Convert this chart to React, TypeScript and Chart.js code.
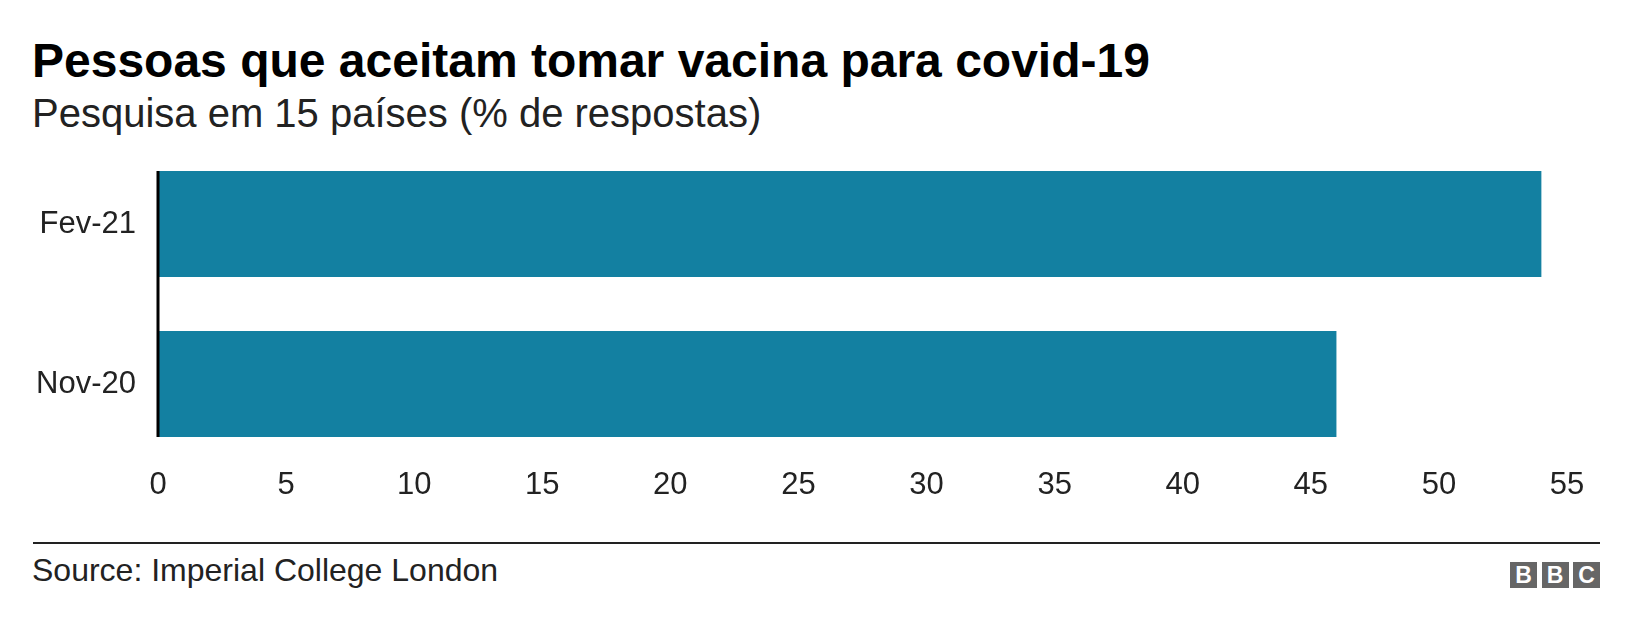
import React, { useEffect, useRef } from "react";
import { Chart, registerables } from "chart.js";

Chart.register(...registerables);

const categories = ["Fev-21", "Nov-20"];
const values = [54, 46];
const xTicks = [0, 5, 10, 15, 20, 25, 30, 35, 40, 45, 50, 55];
const titleText = "Pessoas que aceitam tomar vacina para covid-19";
const subtitleText = "Pesquisa em 15 países (% de respostas)";
const sourceText = "Source: Imperial College London";

const FONT = "'Liberation Sans', Arial, Helvetica, sans-serif";
const BAR = "#1380A1";

const zeroLine = {
  id: "zeroLine",
  afterDatasetsDraw(chart: any) {
    const meta = chart.getDatasetMeta(0);
    if (!meta || !meta.data.length) return;
    let top = Infinity;
    let bottom = -Infinity;
    meta.data.forEach((el: any) => {
      const h = el.height;
      top = Math.min(top, el.y - h / 2);
      bottom = Math.max(bottom, el.y + h / 2);
    });
    const x = chart.scales.x.getPixelForValue(0);
    const ctx = chart.ctx;
    ctx.save();
    ctx.fillStyle = "#000";
    ctx.fillRect(x - 1.5, top, 3, bottom - top);
    ctx.restore();
  },
};

export default function App() {
  const ref = useRef<HTMLCanvasElement>(null);

  useEffect(() => {
    document.body.style.margin = "0";
    const chart = new Chart(ref.current!, {
      type: "bar",
      data: {
        labels: categories,
        datasets: [
          {
            data: values,
            backgroundColor: BAR,
            borderWidth: 0,
            categoryPercentage: 1,
            barPercentage: 0.6625,
          },
        ],
      },
      options: {
        indexAxis: "y",
        animation: false,
        responsive: false,
        devicePixelRatio: 1,
        layout: { padding: { top: 4, right: 65, left: 0, bottom: 0 } },
        plugins: {
          legend: { display: false },
          tooltip: { enabled: false },
        },
        scales: {
          x: {
            min: 0,
            max: 55,
            afterBuildTicks: (s: any) => {
              s.ticks = xTicks.map((v) => ({ value: v }));
            },
            afterFit: (s: any) => {
              s.height = 36;
            },
            grid: { display: false, drawTicks: false },
            border: { display: false },
            ticks: {
              color: "#222",
              padding: 3,
              maxRotation: 0,
              font: { family: FONT, size: 31 },
            },
          },
          y: {
            afterFit: (s: any) => {
              s.width = 158;
              s.paddingTop = 0;
              s.paddingBottom = 0;
            },
            grid: { display: false, drawTicks: false },
            border: { display: false },
            ticks: {
              color: "#222",
              padding: 22,
              font: { family: FONT, size: 31 },
            },
          },
        },
      },
      plugins: [zeroLine],
    });
    return () => chart.destroy();
  }, []);

  const abs = (o: React.CSSProperties): React.CSSProperties => ({
    position: "absolute",
    whiteSpace: "nowrap",
    fontFamily: FONT,
    lineHeight: 1,
    margin: 0,
    ...o,
  });

  return (
    <div
      style={{
        position: "relative",
        width: 1632,
        height: 630,
        background: "#fff",
        overflow: "hidden",
      }}
    >
      <div style={abs({ left: 32, top: 37, fontSize: 48, fontWeight: 700, color: "#000" })}>
        {titleText}
      </div>
      <div style={abs({ left: 32, top: 93, fontSize: 40, color: "#222" })}>{subtitleText}</div>
      <canvas
        ref={ref}
        width={1632}
        height={360}
        style={{ position: "absolute", left: 0, top: 140, width: 1632, height: 360 }}
      />
      <div style={abs({ left: 33, top: 542, width: 1567, height: 2, background: "#222" })} />
      <div style={abs({ left: 32, top: 554, fontSize: 32, color: "#222" })}>{sourceText}</div>
      {["B", "B", "C"].map((l, i) => (
        <div
          key={i}
          style={abs({
            left: 1510 + i * 31.5,
            top: 562,
            width: 27,
            height: 26,
            background: "#666",
            color: "#fff",
            fontSize: 23,
            fontWeight: 700,
            lineHeight: "26px",
            textAlign: "center",
          })}
        >
          {l}
        </div>
      ))}
    </div>
  );
}
